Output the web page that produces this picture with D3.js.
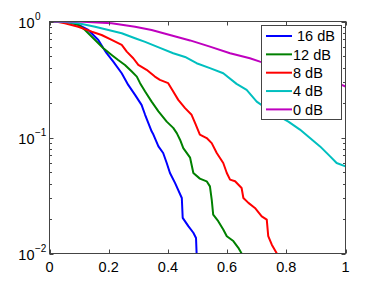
<!DOCTYPE html>
<html><head><meta charset="utf-8">
<script src="https://cdn.jsdelivr.net/npm/d3@7/dist/d3.min.js"></script>
<style>
html,body{margin:0;padding:0;background:#fff;}
svg{display:block;font-family:"Liberation Sans",Arial,Helvetica,sans-serif;}
</style></head>
<body>
<svg id="chart" width="382" height="287"></svg>
<script>
// ---- data (x = threshold fraction, y = probability) ----
const seriesNames = [" 16 dB", "12 dB", "8 dB", "4 dB", "0 dB"];
const seriesColors = ["#0000ff", "#008000", "#ff0000", "#00bfbf", "#bf00bf"];

const s16x = [0, 0.03, 0.069, 0.10, 0.131, 0.165, 0.182, 0.193, 0.2155, 0.244, 0.266, 0.289, 0.311, 0.323, 0.334, 0.345, 0.351, 0.368, 0.384, 0.396, 0.407, 0.424, 0.447, 0.450, 0.469, 0.486, 0.495, 0.497];
const s16y = [1, 1, 0.98, 0.93, 0.845, 0.693, 0.588, 0.533, 0.451, 0.358, 0.284, 0.233, 0.191, 0.157, 0.133, 0.113, 0.106, 0.0838, 0.0735, 0.0603, 0.0494, 0.0406, 0.0301, 0.0203, 0.0172, 0.0151, 0.0136, 0.0100];

const s12x = [0, 0.03, 0.069, 0.10, 0.12, 0.154, 0.182, 0.210, 0.232, 0.255, 0.278, 0.295, 0.306, 0.323, 0.345, 0.368, 0.396, 0.418, 0.430, 0.441, 0.452, 0.475, 0.486, 0.508, 0.531, 0.542, 0.548, 0.553, 0.570, 0.587, 0.599, 0.621, 0.638, 0.649];
const s12y = [1, 1, 0.98, 0.93, 0.845, 0.693, 0.588, 0.515, 0.466, 0.422, 0.370, 0.335, 0.294, 0.249, 0.204, 0.168, 0.137, 0.121, 0.109, 0.0957, 0.0811, 0.067, 0.0494, 0.0442, 0.0419, 0.0379, 0.0292, 0.0216, 0.019, 0.0161, 0.0141, 0.0128, 0.0112, 0.0100];

const s8x = [0, 0.025, 0.052, 0.097, 0.143, 0.176, 0.210, 0.244, 0.261, 0.283, 0.300, 0.328, 0.356, 0.373, 0.401, 0.418, 0.435, 0.458, 0.480, 0.492, 0.508, 0.531, 0.548, 0.565, 0.587, 0.599, 0.610, 0.627, 0.649, 0.655, 0.672, 0.694, 0.717, 0.734, 0.739, 0.751, 0.768];
const s8y = [1, 0.995, 0.965, 0.902, 0.817, 0.765, 0.693, 0.628, 0.550, 0.482, 0.422, 0.383, 0.335, 0.314, 0.294, 0.249, 0.211, 0.179, 0.157, 0.133, 0.106, 0.0989, 0.0895, 0.0735, 0.0603, 0.0494, 0.0433, 0.0419, 0.0367, 0.0301, 0.0273, 0.0247, 0.0209, 0.0196, 0.0141, 0.0119, 0.0100];

const s4x = [0, 0.052, 0.097, 0.154, 0.199, 0.244, 0.289, 0.323, 0.373, 0.418, 0.458, 0.497, 0.542, 0.587, 0.632, 0.666, 0.700, 0.756, 0.807, 0.846, 0.880, 0.914, 0.948, 0.970, 1.0];
const s4y = [1, 0.99, 0.965, 0.902, 0.845, 0.792, 0.717, 0.667, 0.592, 0.533, 0.495, 0.437, 0.396, 0.358, 0.290, 0.257, 0.204, 0.162, 0.137, 0.117, 0.0989, 0.0838, 0.0687, 0.0603, 0.0564];

const s0x = [0, 0.097, 0.210, 0.289, 0.345, 0.413, 0.475, 0.542, 0.610, 0.677, 0.711, 0.846, 0.987, 1.0];
const s0y = [1, 0.998, 0.965, 0.902, 0.845, 0.758, 0.687, 0.607, 0.533, 0.482, 0.451, 0.36, 0.284, 0.275];

const seriesX = [s16x, s12x, s8x, s4x, s0x];
const seriesY = [s16y, s12y, s8y, s4y, s0y];

const xTicks = [0, 0.2, 0.4, 0.6, 0.8, 1];
const yMajor = [1, 0.1, 0.01];
const yExponents = ["0", "\u22121", "\u22122"];

// ---- layout ----
const L = 49.5, R = 345.5, T = 21.5, B = 253.5;
const svg = d3.select("#chart");
const x = d3.scaleLinear().domain([0, 1]).range([L, R]);
const y = d3.scaleLog().domain([0.01, 1]).range([B, T]);

svg.append("defs").append("clipPath").attr("id", "clip")
  .append("rect").attr("x", L).attr("y", T).attr("width", R - L).attr("height", B - T);

const line = d3.line().x(d => x(d[0])).y(d => y(d[1]));
const gLines = svg.append("g").attr("clip-path", "url(#clip)");
seriesX.forEach((xs, i) => {
  const pts = xs.map((v, j) => [v, seriesY[i][j]]);
  gLines.append("path").attr("d", line(pts)).attr("fill", "none")
    .attr("stroke", seriesColors[i]).attr("stroke-width", 2)
    .attr("stroke-linejoin", "round");
});

// ---- axes box & ticks ----
const axisColor = "#444";
const gAx = svg.append("g").attr("stroke", axisColor).attr("stroke-width", 1);
// x ticks top and bottom
xTicks.forEach(v => {
  const px = Math.round(x(v)) + 0.5;
  gAx.append("line").attr("x1", px).attr("x2", px).attr("y1", B).attr("y2", B - 4);
  gAx.append("line").attr("x1", px).attr("x2", px).attr("y1", T).attr("y2", T + 4);
});
// y ticks (major + minor) left and right
const yMinor = [];
[0.01, 0.1].forEach(dec => { for (let k = 2; k <= 9; k++) yMinor.push(dec * k); });
yMajor.forEach(v => {
  const py = Math.round(y(v)) + 0.5;
  gAx.append("line").attr("x1", L).attr("x2", L + 4).attr("y1", py).attr("y2", py);
  gAx.append("line").attr("x1", R).attr("x2", R - 4).attr("y1", py).attr("y2", py);
});
yMinor.forEach(v => {
  const py = Math.round(y(v)) + 0.5;
  gAx.append("line").attr("x1", L).attr("x2", L + 2.5).attr("y1", py).attr("y2", py);
  gAx.append("line").attr("x1", R).attr("x2", R - 2.5).attr("y1", py).attr("y2", py);
});
gAx.append("rect").attr("x", L).attr("y", T).attr("width", R - L).attr("height", B - T)
  .attr("fill", "none");

// x tick labels
const fmt = d3.format("~g");
svg.append("g").selectAll("text").data(xTicks).join("text")
  .attr("x", d => x(d)).attr("y", 271.5).attr("text-anchor", "middle")
  .attr("font-size", 14.5).attr("fill", "#000").text(d => fmt(d));

// y tick labels 10^n
yMajor.forEach((v, i) => {
  const py = y(v);
  svg.append("text").attr("x", 34.5).attr("y", py + 6).attr("text-anchor", "end")
    .attr("font-size", 14.5).attr("fill", "#000").text("10");
  svg.append("text").attr("x", 35).attr("y", py - 1.5).attr("text-anchor", "start")
    .attr("font-size", 10).attr("fill", "#000").text(yExponents[i]);
});

// ---- legend ----
const lg = svg.append("g");
lg.append("rect").attr("x", 261.5).attr("y", 25.5).attr("width", 80).attr("height", 94)
  .attr("fill", "#fff").attr("stroke", axisColor).attr("stroke-width", 1);
seriesNames.forEach((name, i) => {
  const cy = 36 + i * 18.35;
  lg.append("line").attr("x1", 266).attr("x2", 292).attr("y1", cy).attr("y2", cy)
    .attr("stroke", seriesColors[i]).attr("stroke-width", 2);
  lg.append("text").attr("x", 293).attr("y", cy + 5.2).attr("font-size", 14.5)
    .attr("fill", "#000").attr("xml:space", "preserve").style("white-space", "pre")
    .text(name);
});
</script>
</body></html>
